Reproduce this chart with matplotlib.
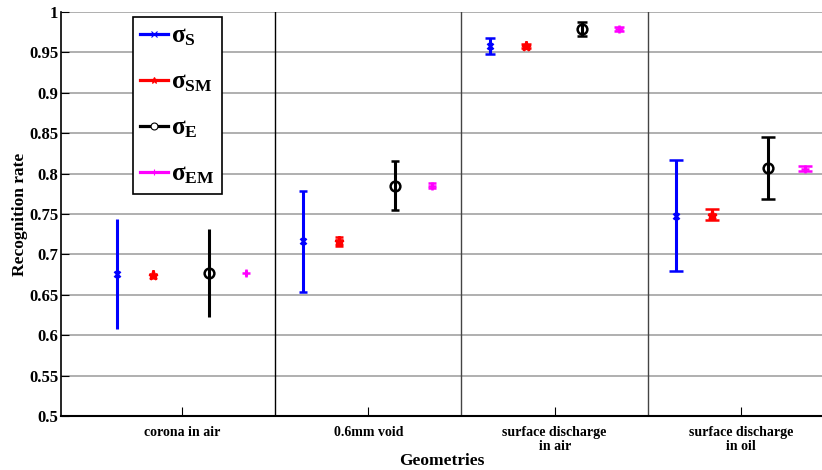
import numpy as np
import matplotlib
matplotlib.use("Agg")
import matplotlib.pyplot as plt
from matplotlib.lines import Line2D

plt.rcParams['font.family'] = ['Liberation Serif', 'DejaVu Serif']
plt.rcParams['font.weight'] = 'bold'
plt.rcParams['axes.labelweight'] = 'bold'
plt.rcParams['mathtext.fontset'] = 'custom'
plt.rcParams['mathtext.rm'] = 'Liberation Serif:bold'
plt.rcParams['mathtext.it'] = 'Liberation Serif:bold'
plt.rcParams['mathtext.bf'] = 'Liberation Serif:bold'

# geometries and recognition rates (mean, error) per feature set
geometries = ['corona in air', '0.6mm void', 'surface discharge\nin air', 'surface discharge\nin oil']
labels = [r'$\sigma_{S}$', r'$\sigma_{SM}$', r'$\sigma_{E}$', r'$\sigma_{EM}$']

sigma_s = [0.676, 0.716, 0.958, 0.748]
sigma_s_err = [0.068, 0.062, 0.010, 0.069]
sigma_sm = [0.675, 0.716, 0.958, 0.749]
sigma_sm_err = [0.005, 0.006, 0.002, 0.007]
sigma_e = [0.677, 0.785, 0.979, 0.807]
sigma_e_err = [0.054, 0.030, 0.009, 0.038]
sigma_em = [0.677, 0.785, 0.979, 0.806]
sigma_em_err = [0.004, 0.003, 0.003, 0.003]

means = [sigma_s, sigma_sm, sigma_e, sigma_em]
errs = [sigma_s_err, sigma_sm_err, sigma_e_err, sigma_em_err]
colors = ['#0000ff', '#ff0000', '#000000', '#ff00ff']
markers = ['x', '*', 'o', '+']
msizes = [4, 6.5, 7, 6]
offsets = [-0.349, -0.156, 0.145, 0.344]
capsizes = [0, 2.6, 3.8, 4.9]

fig = plt.figure(figsize=(8.22, 4.70), dpi=100)
ax = fig.add_axes([0.0742, 0.1149, 0.9258, 0.8596])

x = np.arange(1, len(geometries) + 1)

handles = []
for k in range(4):
    mfc = 'none' if markers[k] == 'o' else colors[k]
    for i in range(len(x)):
        ax.errorbar(x[i] + offsets[k], means[k][i], yerr=errs[k][i],
                    color=colors[k], marker=markers[k], ms=msizes[k],
                    mfc=mfc, mew=1.8, elinewidth=2.2, capsize=capsizes[i],
                    capthick=2.2, linestyle='none', zorder=3)
    handles.append(Line2D([], [], color=colors[k], lw=2.3, marker=markers[k],
                          ms=5, mfc='white' if markers[k] == 'o' else colors[k],
                          mew=0.8))

# separators between geometries
for s, c in zip([1.5, 2.5, 3.5], ['black', '#444444', '#444444']):
    ax.axvline(s, color=c, lw=1.0, zorder=2)

ax.set_xlim(0.3505, 4.435)
ax.set_ylim(0.5, 1.0)
ax.set_yticks(np.arange(0.5, 1.001, 0.05))
ax.set_yticklabels(['0.5', '0.55', '0.6', '0.65', '0.7', '0.75', '0.8', '0.85', '0.9', '0.95', '1'])
ax.set_xticks(x)
ax.set_xticklabels(geometries, fontsize=10, linespacing=1.1)
ax.tick_params(axis='x', direction='in', length=6.5, width=0.8, pad=7)
ax.tick_params(axis='y', direction='in', length=6, width=0.8, labelsize=12, pad=2)
ax.yaxis.grid(True, color='#9a9a9a', lw=1.1)
ax.set_axisbelow(True)
for side in ['top', 'right']:
    ax.spines[side].set_visible(False)
ax.spines['bottom'].set_linewidth(1.5)
ax.spines['left'].set_linewidth(1.2)

ax.set_xlabel('Geometries', fontsize=12.5, labelpad=0)
ax.set_ylabel('Recognition rate', fontsize=12.5, labelpad=1)

leg = ax.legend(handles, labels, loc='upper left', bbox_to_anchor=(0.0946, 0.9876),
                fontsize=18, handlelength=1.12, handletextpad=0.1, labelspacing=0.9,
                borderpad=0.3, borderaxespad=0, fancybox=False, framealpha=1,
                edgecolor='black')
leg.get_frame().set_linewidth(1.2)

fig.savefig('out.png', dpi=100)
